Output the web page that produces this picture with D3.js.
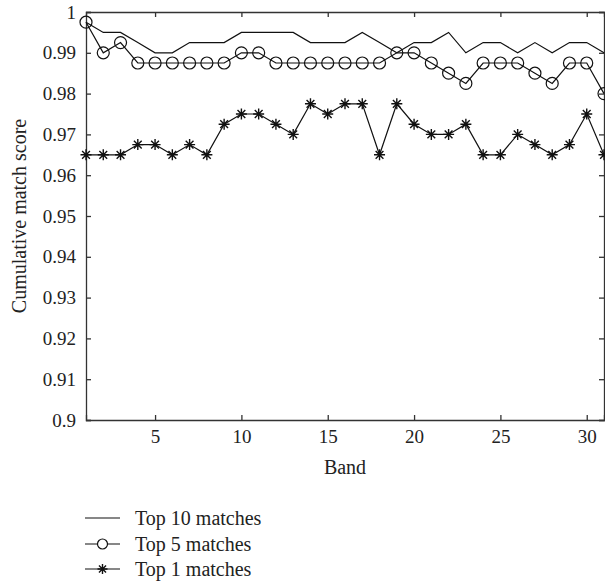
<!DOCTYPE html>
<html>
<head>
<meta charset="utf-8">
<script src="https://cdn.jsdelivr.net/npm/d3@7"></script>
<style>
  body { margin: 0; background: #fff; }
  svg text { font-family: "Liberation Serif", "DejaVu Serif", serif; fill: #222; }
</style>
</head>
<body>
<svg id="chart" width="605" height="585"></svg>
<script>
const bands = d3.range(1, 32);

const top10 = [0.9975, 0.995, 0.995, 0.9925, 0.99, 0.99, 0.9925, 0.9925, 0.9925, 0.995,
  0.995, 0.995, 0.995, 0.9925, 0.9925, 0.9925, 0.995, 0.9925, 0.99, 0.9925,
  0.9925, 0.995, 0.99, 0.9925, 0.9925, 0.99, 0.9925, 0.99, 0.9925, 0.9925, 0.99];

const top5 = [0.9975, 0.99, 0.9925, 0.9875, 0.9875, 0.9875, 0.9875, 0.9875, 0.9875, 0.99,
  0.99, 0.9875, 0.9875, 0.9875, 0.9875, 0.9875, 0.9875, 0.9875, 0.99, 0.99,
  0.9875, 0.985, 0.9825, 0.9875, 0.9875, 0.9875, 0.985, 0.9825, 0.9875, 0.9875, 0.98];

const top1 = [0.965, 0.965, 0.965, 0.9675, 0.9675, 0.965, 0.9675, 0.965, 0.9725, 0.975,
  0.975, 0.9725, 0.97, 0.9775, 0.975, 0.9775, 0.9775, 0.965, 0.9775, 0.9725,
  0.97, 0.97, 0.9725, 0.965, 0.965, 0.97, 0.9675, 0.965, 0.9675, 0.975, 0.965];

const xTicks = [5, 10, 15, 20, 25, 30];
const yTicks = d3.range(0, 11).map(i => +(0.9 + i * 0.01).toFixed(2));

const legendLabels = ['Top 10 matches', 'Top 5 matches', 'Top 1 matches'];

const margin = { left: 86, right: 1, top: 12, bottom: 165 };
const width = 605, height = 585;

const svg = d3.select('#chart');

const x = d3.scaleLinear().domain([1, 31]).range([margin.left, width - margin.right]);
const y = d3.scaleLinear().domain([0.9, 1]).range([height - margin.bottom, margin.top]);

const axisColor = '#333';
const tickFont = 19;
const titleFont = 20;
const fmtY = d => d === 1 ? '1' : (d === 0.9 ? '0.9' : d3.format('.2f')(d));

// Axes with inward ticks on all four sides
const xAxisB = d3.axisBottom(x).tickValues(xTicks).tickSize(-5).tickPadding(10);
const xAxisT = d3.axisTop(x).tickValues(xTicks).tickSize(-5).tickFormat('');
const yAxisL = d3.axisLeft(y).tickValues(yTicks).tickSize(-5).tickPadding(10).tickFormat(fmtY);
const yAxisR = d3.axisRight(y).tickValues(yTicks).tickSize(-5).tickFormat('');

const gB = svg.append('g').attr('transform', `translate(0,${y(0.9)})`).call(xAxisB);
const gT = svg.append('g').attr('transform', `translate(0,${y(1)})`).call(xAxisT);
const gL = svg.append('g').attr('transform', `translate(${x(1)},0)`).call(yAxisL);
const gR = svg.append('g').attr('transform', `translate(${x(31)},0)`).call(yAxisR);

[gB, gT, gL, gR].forEach(g => {
  g.select('.domain').attr('stroke', axisColor).attr('stroke-width', 1.3);
  g.selectAll('.tick line').attr('stroke', axisColor).attr('stroke-width', 1.3);
  g.selectAll('.tick text')
    .attr('font-family', '"Liberation Serif", serif')
    .attr('font-size', tickFont)
    .attr('fill', '#222');
});

// Axis titles
svg.append('text')
  .attr('x', (x(1) + x(31)) / 2)
  .attr('y', 474)
  .attr('text-anchor', 'middle')
  .attr('font-size', titleFont)
  .text('Band');

svg.append('text')
  .attr('transform', `translate(26,${(y(0.9) + y(1)) / 2}) rotate(-90)`)
  .attr('text-anchor', 'middle')
  .attr('font-size', titleFont)
  .text('Cumulative match score');

// Lines
const line = vals => d3.line()
  .x((d, i) => x(bands[i]))
  .y(d => y(d))(vals);

const plot = svg.append('g');

[top10, top5, top1].forEach(vals => {
  plot.append('path')
    .attr('d', line(vals))
    .attr('fill', 'none')
    .attr('stroke', '#111')
    .attr('stroke-width', 1.2);
});

// Markers
const starPath = r => {
  const d = r * Math.SQRT1_2;
  return `M0,${-r}L0,${r}M${-r},0L${r},0M${-d},${-d}L${d},${d}M${-d},${d}L${d},${-d}`;
};

plot.selectAll('circle.top5')
  .data(top5)
  .join('circle')
  .attr('class', 'top5')
  .attr('cx', (d, i) => x(bands[i]))
  .attr('cy', d => y(d))
  .attr('r', 6)
  .attr('fill', 'none')
  .attr('stroke', '#111')
  .attr('stroke-width', 1.2);

plot.selectAll('path.top1')
  .data(top1)
  .join('path')
  .attr('class', 'top1')
  .attr('transform', (d, i) => `translate(${x(bands[i])},${y(d)})`)
  .attr('d', starPath(5.5))
  .attr('stroke', '#111')
  .attr('stroke-width', 1.4);

// Legend
const legend = svg.append('g');
const legY = [518, 544, 569];

legendLabels.forEach((label, i) => {
  const g = legend.append('g').attr('transform', `translate(0,${legY[i]})`);
  g.append('line')
    .attr('x1', 85).attr('x2', 120)
    .attr('stroke', '#111').attr('stroke-width', 1.2);
  if (i === 1) {
    g.append('circle').attr('cx', 102.5).attr('r', 5)
      .attr('fill', '#fff').attr('stroke', '#111').attr('stroke-width', 1.2);
  }
  if (i === 2) {
    g.append('path').attr('transform', 'translate(102.5,0)')
      .attr('d', starPath(5)).attr('stroke', '#111').attr('stroke-width', 1.4);
  }
  g.append('text')
    .attr('x', 135)
    .attr('dy', '0.35em')
    .attr('font-size', titleFont)
    .text(label);
});
</script>
</body>
</html>
